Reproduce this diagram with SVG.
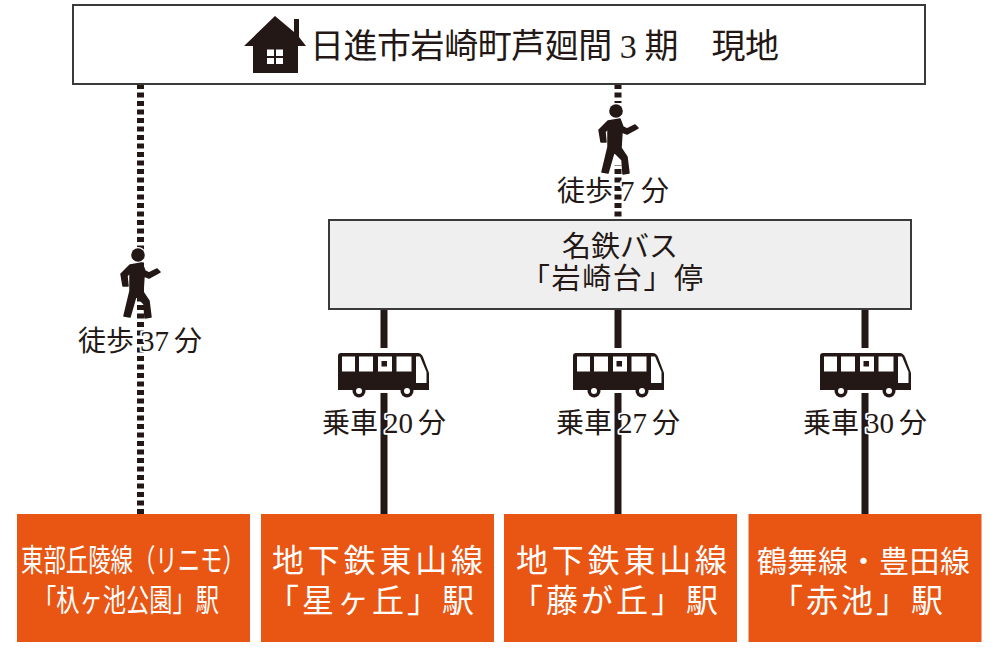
<svg xmlns="http://www.w3.org/2000/svg" xmlns:xlink="http://www.w3.org/1999/xlink" width="999" height="657" viewBox="0 0 999 657">
<style>
text{font-family:"Liberation Serif","Noto Sans CJK JP",serif;fill:#231815}
.lbl{font-size:28px;paint-order:stroke;stroke:#fff;stroke-width:3.5px;stroke-linejoin:round}
.num{font-size:29px}
.st text{fill:#fff}
.st rect{fill:#e95513}
.dot{stroke:#231815;stroke-width:7;stroke-dasharray:5 3.5;fill:none}
.sol{stroke:#231815;stroke-width:7;fill:none}
</style>
<defs>
<g id="walker">
<circle r="8" fill="#fff"/>
<circle r="6.800" fill="#231815"/>
<path d="M-8 10L4 8L7 16L11 18L19 14L22 17L11 23L6 21L5 37L11 46L13 62L7 63L6 49L-2 41L-8 62L-14 61L-8 36V17L-11 21L-10 31L-15 31L-17 19Z" fill="#231815" stroke="#231815" stroke-width="1.500" stroke-linejoin="round"/>
</g>
<g id="bus">
<path d="M-3 40V2Q-3 -5 3 -5H81L94 20V40Z" fill="#fff"/>
<circle cx="21" cy="38" r="9" fill="#fff"/><circle cx="69" cy="38" r="9" fill="#fff"/>
<path d="M3 0H80Q83 0 85 4L91 20V37H0V3Q0 0 3 0Z" fill="#231815"/>
<path d="M4 3.500H17V18.500H4ZM21 3.500H35V18.500H21ZM40 3.500H54V18.500H40ZM58.500 3.500H73.500V18.500H58.500ZM78 3.500H82L88.500 19V30H78Z" fill="#fff"/>
<rect x="43.500" y="8" width="5.500" height="5.500" fill="#231815"/>
<circle cx="21" cy="38" r="6.500" fill="#231815"/><circle cx="69" cy="38" r="6.500" fill="#231815"/>
<circle cx="21" cy="38" r="3" fill="#fff"/><circle cx="69" cy="38" r="3" fill="#fff"/>
</g>
</defs>
<rect width="999" height="657" fill="#fff"/>
<g id="connectors">
<path class="dot" d="M140.500 84V514"/>
<path class="dot" d="M618 84V220"/>
<path class="sol" d="M384 309V514M618 309V514M865 309V514"/>
</g>
<g id="site">
<rect x="73" y="5" width="852" height="79" fill="#fff" stroke="#3a3a3a" stroke-width="2"/>
<path d="M275 16L294 32V19H299V37L306 46H298V73H253V46H244Z" fill="#231815"/>
<path d="M267 49.500H274V56H267ZM276 49.500H283V56H276ZM267 58H274V64H267ZM276 58H283V64H276Z" fill="#fff"/>
<text x="310" y="58" font-size="34" textLength="469">日進市岩崎町芦廻間 3 期　現地</text>
</g>
<g id="walk-7"><rect x="613" y="103" width="11" height="62" fill="#fff"/><use xlink:href="#walker" href="#walker" x="616" y="111"/><text class="lbl" y="201"><tspan x="557">徒歩</tspan><tspan class="num" x="620">7</tspan><tspan x="641">分</tspan></text></g>
<g id="walk-37"><use xlink:href="#walker" href="#walker" x="138" y="255"/><text class="lbl" y="351"><tspan x="78">徒歩</tspan><tspan class="num" x="140">37</tspan><tspan x="174">分</tspan></text></g>
<g id="bus-stop">
<rect x="329" y="220" width="582" height="89" fill="#efefef" stroke="#3a3a3a" stroke-width="2"/>
<text x="620" y="257" font-size="29" text-anchor="middle">名鉄バス</text>
<text x="521" y="289" font-size="29" textLength="182">「岩崎台」停</text>
</g>
<g id="ride-20"><use xlink:href="#bus" href="#bus" x="338" y="353"/><text class="lbl" y="433"><tspan x="322">乗車</tspan><tspan class="num" x="384">20</tspan><tspan x="418">分</tspan></text></g>
<g id="ride-27"><use xlink:href="#bus" href="#bus" x="573" y="353"/><text class="lbl" y="433"><tspan x="556">乗車</tspan><tspan class="num" x="618">27</tspan><tspan x="652">分</tspan></text></g>
<g id="ride-30"><use xlink:href="#bus" href="#bus" x="820" y="353"/><text class="lbl" y="433"><tspan x="803">乗車</tspan><tspan class="num" x="865">30</tspan><tspan x="899">分</tspan></text></g>
<g id="st-1" class="st"><rect x="17" y="514" width="233" height="128"/>
<text transform="translate(21 571) scale(.7226 1)" font-size="31">東部丘陵線（リニモ）</text>
<text transform="translate(33 611) scale(.75 1)" font-size="31">「杁ヶ池公園」駅</text></g>
<g id="st-2" class="st"><rect x="261" y="514" width="233" height="128"/>
<text x="272" y="572" font-size="32" textLength="211">地下鉄東山線</text>
<text x="267" y="612" font-size="32" textLength="207">「星ヶ丘」駅</text></g>
<g id="st-3" class="st"><rect x="504" y="514" width="233" height="128"/>
<text x="516" y="572" font-size="32" textLength="211">地下鉄東山線</text>
<text x="511" y="612" font-size="32" textLength="207">「藤が丘」駅</text></g>
<g id="st-4" class="st"><rect x="748.500" y="514" width="233" height="128"/>
<text x="757" y="572" font-size="30" textLength="213">鶴舞線・豊田線</text>
<text x="771" y="612" font-size="32" textLength="172">「赤池」駅</text></g>
</svg>
